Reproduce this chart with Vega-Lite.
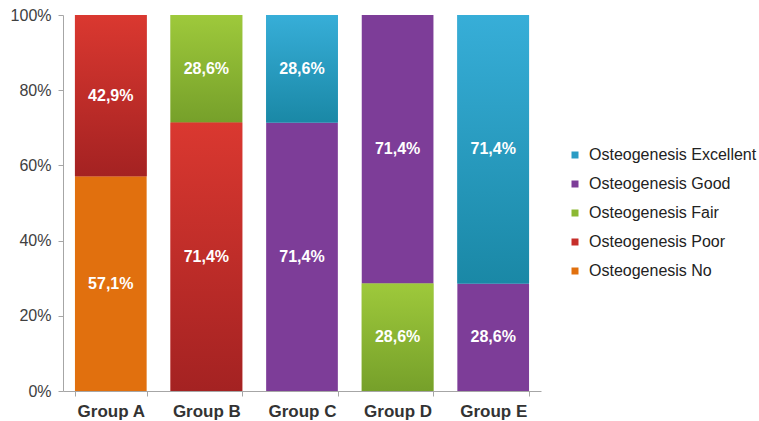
{
  "$schema": "https://vega.github.io/schema/vega-lite/v6.json",
  "width": 478,
  "height": 376,
  "autosize": "none",
  "padding": {"left": 63, "top": 15, "right": 218, "bottom": 30},
  "background": "white",
  "config": {
    "view": {"stroke": null},
    "font": "Liberation Sans"
  },
  "data": {
    "values": [
      {"group": "Group A", "level": "Osteogenesis No", "rank": 1, "v": 57.1},
      {"group": "Group A", "level": "Osteogenesis Poor", "rank": 2, "v": 42.9},
      {"group": "Group B", "level": "Osteogenesis Poor", "rank": 2, "v": 71.4},
      {"group": "Group B", "level": "Osteogenesis Fair", "rank": 3, "v": 28.6},
      {"group": "Group C", "level": "Osteogenesis Good", "rank": 4, "v": 71.4},
      {"group": "Group C", "level": "Osteogenesis Excellent", "rank": 5, "v": 28.6},
      {"group": "Group D", "level": "Osteogenesis Fair", "rank": 3, "v": 28.6},
      {"group": "Group D", "level": "Osteogenesis Good", "rank": 4, "v": 71.4},
      {"group": "Group E", "level": "Osteogenesis Good", "rank": 4, "v": 28.6},
      {"group": "Group E", "level": "Osteogenesis Excellent", "rank": 5, "v": 71.4}
    ]
  },
  "transform": [
    {"stack": "v", "groupby": ["group"], "sort": [{"field": "rank", "order": "ascending"}], "as": ["y0", "y1"]},
    {"calculate": "(datum.y0 + datum.y1) / 2", "as": "mid"},
    {"calculate": "replace(format(datum.v, '.1f'), '.', ',') + '%'", "as": "lbl"}
  ],
  "encoding": {
    "x": {
      "field": "group",
      "type": "nominal",
      "scale": {"paddingInner": 0.25, "paddingOuter": 0.125},
      "axis": {
        "title": null,
        "labelAngle": 0,
        "labelFont": "Liberation Sans",
        "labelFontSize": 17,
        "labelFontWeight": "bold",
        "labelColor": "#333333",
        "labelPadding": 7,
        "tickBand": "extent",
        "tickSize": 5,
        "tickColor": "#a6a6a6",
        "domainColor": "#a6a6a6",
        "grid": false
      }
    },
    "y": {
      "field": "y0",
      "type": "quantitative",
      "scale": {"domain": [0, 100]},
      "axis": {
        "title": null,
        "values": [0, 20, 40, 60, 80, 100],
        "labelExpr": "datum.value + '%'",
        "labelFont": "Liberation Sans",
        "labelFontSize": 16,
        "labelColor": "#404040",
        "labelPadding": 7,
        "tickSize": 5,
        "tickColor": "#a6a6a6",
        "domainColor": "#a6a6a6",
        "grid": false
      }
    },
    "y2": {"field": "y1"}
  },
  "layer": [
    {
      "mark": {"type": "bar"},
      "encoding": {
        "color": {
          "field": "level",
          "type": "nominal",
          "scale": {
            "domain": ["Osteogenesis Excellent", "Osteogenesis Good", "Osteogenesis Fair", "Osteogenesis Poor", "Osteogenesis No"],
            "range": ["#2a9cc4", "#7d3d98", "#8cb833", "#c62e2a", "#e1700e"]
          },
          "legend": {
            "title": null,
            "orient": "none",
            "legendX": 504,
            "legendY": 132,
            "symbolType": "square",
            "symbolSize": 49,
            "symbolStrokeWidth": 0,
            "labelFont": "Liberation Sans",
            "labelFontSize": 16,
            "labelColor": "#222222",
            "labelOffset": 6,
            "rowPadding": 13,
            "labelLimit": 300
          }
        }
      }
    },
    {
      "transform": [{"filter": "datum.level === 'Osteogenesis Excellent'"}],
      "mark": {"type": "bar", "color": {"gradient": "linear", "x1": 0, "y1": 0, "x2": 0, "y2": 1, "stops": [{"offset": 0, "color": "#37aed8"}, {"offset": 1, "color": "#1a88a6"}]}},
      "encoding": {}
    },
    {
      "transform": [{"filter": "datum.level === 'Osteogenesis Fair'"}],
      "mark": {"type": "bar", "color": {"gradient": "linear", "x1": 0, "y1": 0, "x2": 0, "y2": 1, "stops": [{"offset": 0, "color": "#9ec93b"}, {"offset": 1, "color": "#76a02a"}]}},
      "encoding": {}
    },
    {
      "transform": [{"filter": "datum.level === 'Osteogenesis Poor'"}],
      "mark": {"type": "bar", "color": {"gradient": "linear", "x1": 0, "y1": 0, "x2": 0, "y2": 1, "stops": [{"offset": 0, "color": "#da3830"}, {"offset": 1, "color": "#a42222"}]}},
      "encoding": {}
    },
    {
      "mark": {"type": "text", "color": "white", "fontWeight": "bold", "fontSize": 16, "font": "Liberation Sans", "baseline": "middle", "align": "center"},
      "encoding": {
        "y": {"field": "mid", "type": "quantitative"},
        "y2": null,
        "text": {"field": "lbl"}
      }
    }
  ]
}
